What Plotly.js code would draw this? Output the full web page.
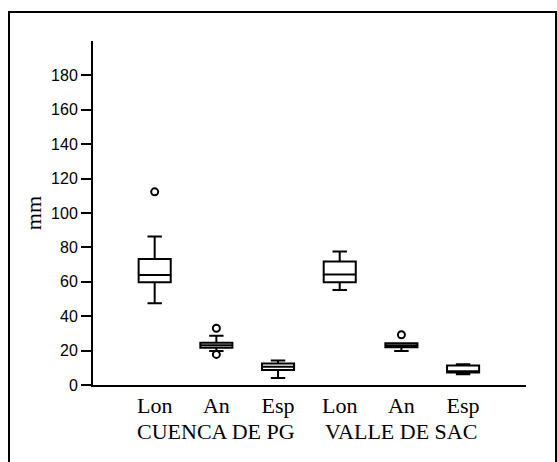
<!DOCTYPE html>
<html>
<head>
<meta charset="utf-8">
<script src="https://cdn.plot.ly/plotly-3.0.1.min.js"></script>
<style>html,body{margin:0;padding:0;background:#fff;}#chart{width:557px;height:462px;}</style>
</head>
<body>
<div id="chart"></div>
<script>
// Categories (positions 0..5) and their labels
const measures = ["Lon", "An", "Esp", "Lon", "An", "Esp"];
const groups = ["CUENCA DE PG", "VALLE DE SAC"];
const groupCenters = [1, 4];
const positions = [0, 1, 2, 3, 4, 5];

// Box statistics (mm)
const lowerWhisker = [47.5, 19.8, 4.0, 55.3, 19.7, 6.3];
const q1Values     = [59.8, 21.6, 8.7, 59.8, 21.9, 7.2];
const medianValues = [64.0, 23.1, 10.6, 64.2, 23.0, 8.0];
const q3Values     = [73.2, 24.6, 12.5, 71.8, 24.3, 11.3];
const upperWhisker = [86.3, 28.6, 14.2, 77.6, 24.3, 12.1];

// Outliers
const outlierX = [0, 1, 1, 4];
const outlierY = [112.3, 33.0, 17.8, 29.2];

// Axis ticks
const yTicks = [0, 20, 40, 60, 80, 100, 120, 140, 160, 180];

const serif = "Liberation Serif, Times New Roman, serif";

const boxTrace = {
  type: "box",
  x: positions,
  q1: q1Values,
  median: medianValues,
  q3: q3Values,
  lowerfence: lowerWhisker,
  upperfence: upperWhisker,
  boxpoints: false,
  width: 0.52,
  whiskerwidth: 0.45,
  fillcolor: "#ffffff",
  line: {color: "#000000", width: 2},
  hoverinfo: "skip",
  showlegend: false
};

const outlierTrace = {
  type: "scatter",
  mode: "markers",
  x: outlierX,
  y: outlierY,
  marker: {symbol: "circle-open", size: 7, color: "#000000", line: {width: 2, color: "#000000"}},
  hoverinfo: "skip",
  showlegend: false
};

const annotations = groups.map((g, i) => ({
  text: g,
  x: groupCenters[i],
  xref: "x",
  y: -0.134,
  yref: "paper",
  xanchor: "center",
  yanchor: "middle",
  showarrow: false,
  font: {family: serif, size: 22, color: "#000"}
}));

const layout = {
  width: 557,
  height: 462,
  margin: {l: 93, r: 31, t: 41, b: 77},
  paper_bgcolor: "#ffffff",
  plot_bgcolor: "#ffffff",
  showlegend: false,
  xaxis: {
    range: [-1, 6.02],
    tickvals: positions,
    ticktext: measures,
    ticks: "",
    showgrid: false,
    zeroline: false,
    showline: true,
    linecolor: "#000",
    linewidth: 2,
    tickfont: {family: serif, size: 22, color: "#000"},
    fixedrange: true
  },
  yaxis: {
    range: [0, 200],
    tickvals: yTicks,
    ticktext: yTicks.map(String),
    ticks: "outside",
    ticklen: 10,
    tickwidth: 2,
    tickcolor: "#000",
    showgrid: false,
    zeroline: false,
    showline: true,
    linecolor: "#000",
    linewidth: 2,
    tickfont: {family: "Liberation Sans Narrow, Liberation Sans, Arial, sans-serif", size: 16, color: "#000"},
    title: {text: "mm", standoff: 3, font: {family: serif, size: 22, color: "#000000"}},
    fixedrange: true
  },
  annotations: annotations,
  shapes: [{
    type: "rect",
    xref: "paper", yref: "paper",
    x0: (9 - 93) / 433, x1: (556 - 93) / 433,
    y0: -(470 - 385) / 344, y1: (385 - 12) / 344,
    line: {color: "#000", width: 2},
    fillcolor: "rgba(0,0,0,0)",
    layer: "below"
  }]
};

Plotly.newPlot("chart", [boxTrace, outlierTrace], layout, {displayModeBar: false, staticPlot: true});
</script>
</body>
</html>
